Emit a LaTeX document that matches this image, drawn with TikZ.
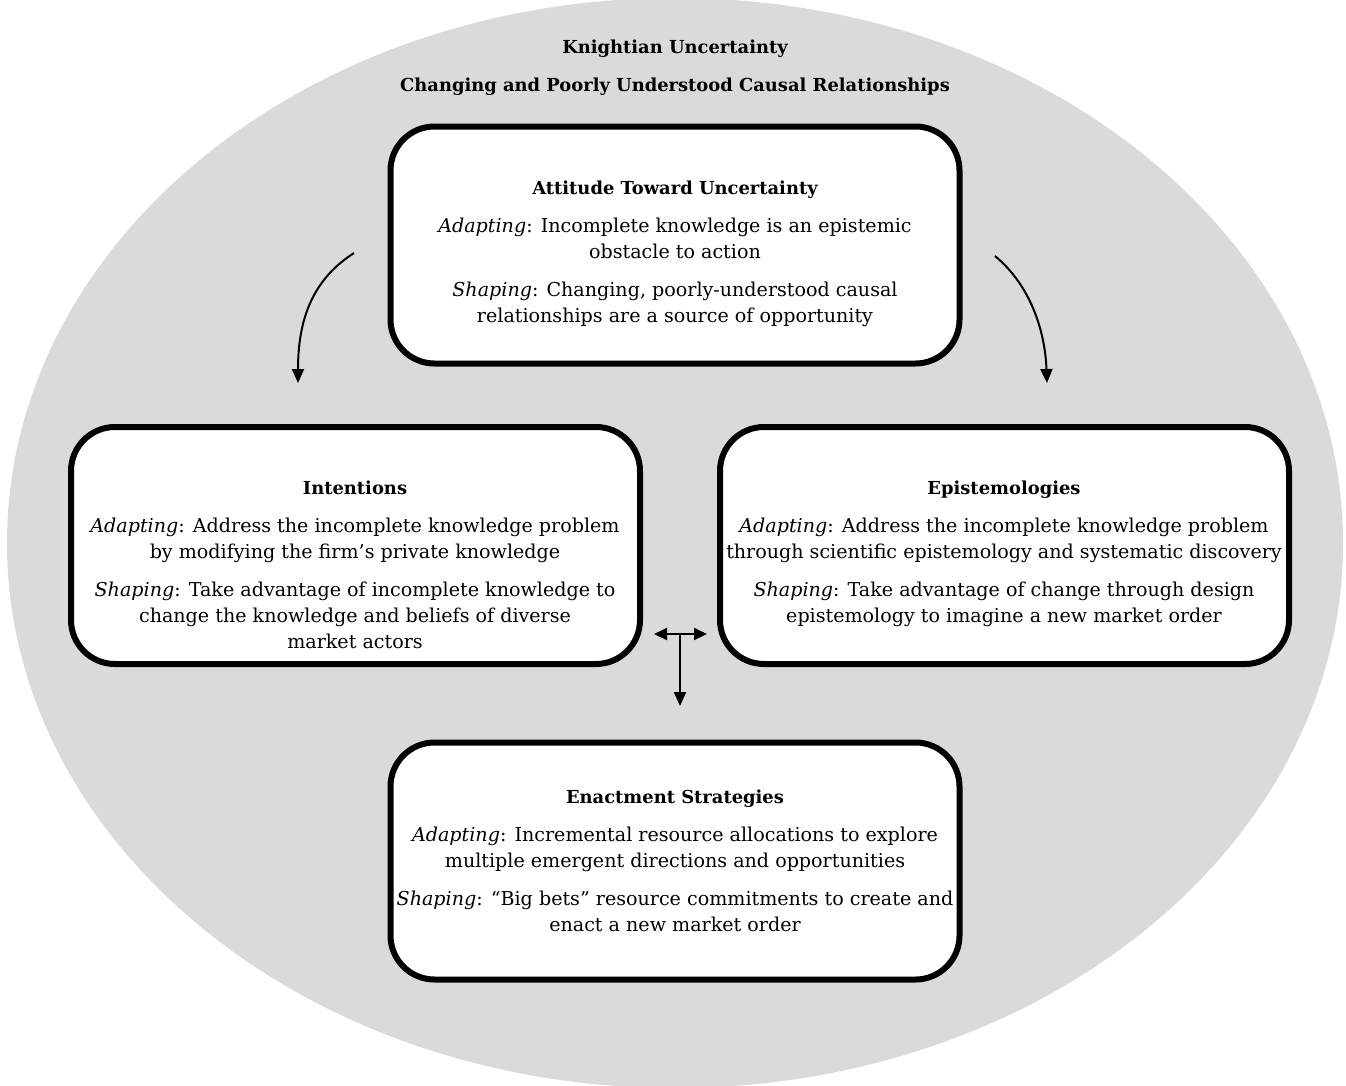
\documentclass[tikz,border=0pt]{standalone}
\usepackage{fontspec}
\setmainfont{DejaVu Serif}
\usetikzlibrary{arrows.meta,shapes.geometric}
\definecolor{bggray}{HTML}{D9DADC}
\newcommand{\hd}[1]{{\fontsize{17.9}{26}\selectfont\bfseries #1}}
\begin{document}
\begin{tikzpicture}[x=1pt,y=-1pt,
  panel/.style={draw=black,line width=6pt,fill=white,rounded corners=44pt,
    minimum width=569pt,minimum height=237pt,inner sep=0pt},
  body/.style={anchor=north,align=center,inner sep=0pt,
    font=\fontsize{19.1}{26}\selectfont},
  head/.style={font=\fontsize{17.9}{26}\selectfont\bfseries,inner sep=0pt},
  arr/.style={line width=2pt,-{Triangle[length=14pt,width=12pt]}},
  darr/.style={line width=2pt,{Triangle[length=13pt,width=12pt]}-{Triangle[length=13pt,width=12pt]}}]
\useasboundingbox (0,0) rectangle (1346,1085);
\node[ellipse,fill=bggray,minimum width=1336pt,minimum height=1090pt,inner sep=0pt] (bg) at (675,543) {};
\node[head] (t1) at (675,49) {Knightian Uncertainty};
\node[head] (t2) at (675,87) {Changing and Poorly Understood Causal Relationships};
% panels
\node[panel] (att) at (675,245) {};
\node[panel] (int) at (355.5,545.5) {};
\node[panel] (epi) at (1004.5,545.5) {};
\node[panel] (ena) at (675,861) {};
% texts
\node[body] (attT) at (675,181) {\hd{Attitude Toward Uncertainty}\\[12pt]
  \textit{Adapting}: Incomplete knowledge is an epistemic\\ obstacle to action\\[12pt]
  \textit{Shaping}: Changing, poorly-understood causal\\ relationships are a source of opportunity};
\node[body] (intT) at (355,481) {\hd{Intentions}\\[12pt]
  \textit{Adapting}: Address the incomplete knowledge problem\\ by modifying the firm’s private knowledge\\[12pt]
  \textit{Shaping}: Take advantage of incomplete knowledge to\\ change the knowledge and beliefs of diverse\\ market actors};
\node[body] (epiT) at (1004,481) {\hd{Epistemologies}\\[12pt]
  \textit{Adapting}: Address the incomplete knowledge problem\\ through scientific epistemology and systematic discovery\\[12pt]
  \textit{Shaping}: Take advantage of change through design\\ epistemology to imagine a new market order};
\node[body] (enaT) at (675,790) {\hd{Enactment Strategies}\\[12pt]
  \textit{Adapting}: Incremental resource allocations to explore\\ multiple emergent directions and opportunities\\[12pt]
  \textit{Shaping}: “Big bets” resource commitments to create and\\ enact a new market order};
% arrows
\coordinate (la) at (354,253);
\coordinate (lb) at (298,383);
\coordinate (ra) at (995,256);
\coordinate (rb) at (1047,383);
\draw[arr] (la) .. controls (312,280) and (298,320) .. (lb);
\draw[arr] (ra) .. controls (1030,285) and (1045,330) .. (rb);
\coordinate (hl) at (654,634);
\coordinate (hr) at (707,634);
\coordinate (hm) at (680,634);
\coordinate (vd) at (680,706);
\draw[darr] (hl) -- (hr);
\draw[arr] (hm) -- (vd);
\end{tikzpicture}
\end{document}
